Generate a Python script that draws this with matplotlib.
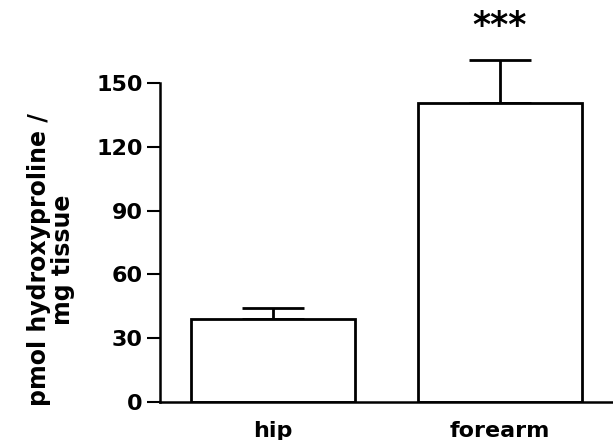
import matplotlib
matplotlib.use("Agg")
import matplotlib.pyplot as plt

categories = ["hip", "forearm"]
means = [38.9, 140.7]
errors = [5.4, 20.1]
yticks = [0, 30, 60, 90, 120, 150]
significance = ["", "***"]

plt.rcParams['font.family'] = ['DejaVu Sans']
plt.rcParams['font.weight'] = 'bold'

fig = plt.figure(figsize=(6.13, 4.40), dpi=100)
ax = fig.add_axes([0.261, 0.0864, 0.739, 0.725])

x = list(range(len(categories)))
ax.bar(x, means, width=0.722, color='white', edgecolor='black', linewidth=2.0, zorder=2)
ax.errorbar(x, means, yerr=[[0]*len(errors), errors], fmt='none', ecolor='black',
            elinewidth=2.0, capsize=22, capthick=2.0, zorder=1, clip_on=False)

for xi, m, e, s in zip(x, means, errors, significance):
    if s:
        ax.text(xi, m + e + 8, s, ha='center', va='bottom', fontsize=25, fontweight='heavy',
                clip_on=False)

ax.set_xlim(-0.5, 1.5)
ax.set_ylim(0, 150)
ax.set_yticks(yticks)
ax.set_xticks(x)
ax.set_xticklabels(categories, fontsize=16, fontweight='bold')
ax.tick_params(axis='x', length=0, pad=14)
ax.tick_params(axis='y', length=9.5, width=1.5, labelsize=16, pad=3)
for lbl in ax.get_yticklabels():
    lbl.set_fontweight('bold')

ax.spines['top'].set_visible(False)
ax.spines['right'].set_visible(False)
ax.spines['left'].set_linewidth(1.8)
ax.spines['bottom'].set_linewidth(1.8)

ax.set_ylabel("pmol hydroxyproline /\nmg tissue", fontsize=17, fontweight='bold',
              linespacing=1.0, labelpad=15, y=0.445)

fig.savefig("out.png", dpi=100)
